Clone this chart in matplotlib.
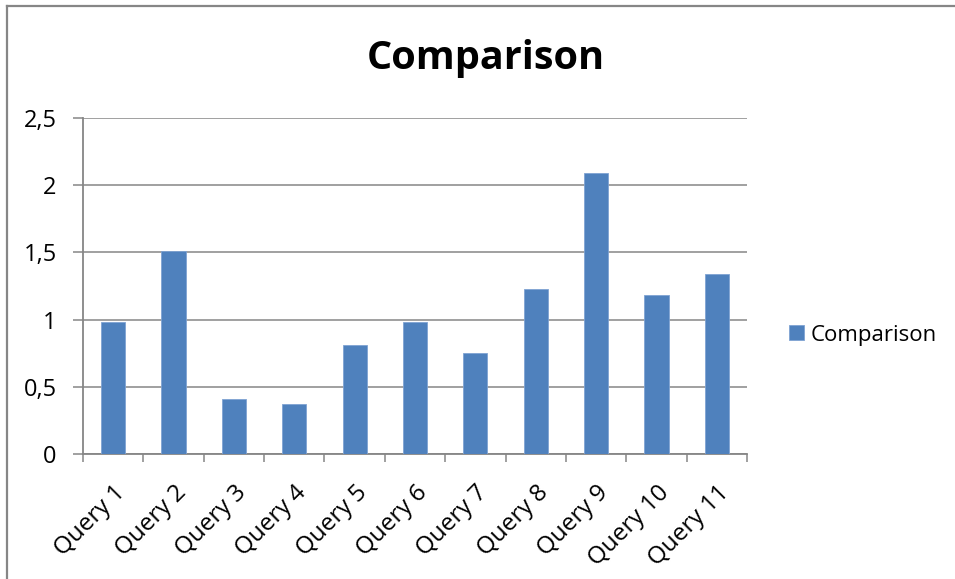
import matplotlib
matplotlib.use("Agg")
import matplotlib.pyplot as plt
import matplotlib.transforms as mtransforms
from matplotlib.lines import Line2D
import numpy as np

categories = ["Query 1", "Query 2", "Query 3", "Query 4", "Query 5", "Query 6",
              "Query 7", "Query 8", "Query 9", "Query 10", "Query 11"]
values = [0.98, 1.51, 0.41, 0.37, 0.81, 0.98, 0.75, 1.23, 2.09, 1.18, 1.34]
y_ticks = [0, 0.5, 1, 1.5, 2, 2.5]
y_tick_labels = ["0", "0,5", "1", "1,5", "2", "2,5"]
series_name = "Comparison"
title = "Comparison"

plt.rcParams["font.family"] = ["Open Sans", "DejaVu Sans"]

W, H, DPI = 955, 579, 100
fig = plt.figure(figsize=(W / DPI, H / DPI), dpi=DPI)
fig.patch.set_facecolor("white")

grid_col = "#868686"
bar_col = "#4F81BD"

ax = fig.add_axes([83 / W, 1 - 454 / H, (747 - 83) / W, (454 - 118) / H])
x = np.arange(len(categories))
bars = ax.bar(x, values, width=0.4, color=bar_col, edgecolor="#7FA3D3",
              linewidth=0.6, zorder=3, label=series_name)

ax.set_xlim(-0.5, len(categories) - 0.5)
ax.set_ylim(0, 2.5)

# horizontal gridlines
ax.set_yticks(y_ticks)
ax.set_yticklabels(y_tick_labels, fontsize=17)
ax.yaxis.grid(True, color=grid_col, linewidth=1.1, zorder=0)
ax.tick_params(axis="y", length=7, width=1.1, color=grid_col, pad=12)

# category ticks sit between bars, labels at bar centres
ax.set_xticks(np.arange(len(categories) + 1) - 0.5)
ax.set_xticklabels([])
ax.tick_params(axis="x", which="major", length=6, width=1.1, color=grid_col)
ax.set_xticks(x, minor=True)
ax.set_xticklabels(categories, minor=True, fontsize=17.5, rotation=45,
                   ha="right", va="top", rotation_mode="anchor")
ax.tick_params(axis="x", which="minor", length=0, pad=19)
shift = mtransforms.ScaledTranslation(0.5 / DPI, 0, fig.dpi_scale_trans)
for lbl in ax.get_xticklabels(minor=True):
    lbl.set_transform(lbl.get_transform() + shift)

for side in ("top", "right"):
    ax.spines[side].set_visible(False)
for side in ("left", "bottom"):
    ax.spines[side].set_color(grid_col)
    ax.spines[side].set_linewidth(1.3)

fig.text(486 / W, 1 - 69 / H, title, fontsize=28.5, fontweight="bold",
         ha="center", va="baseline")

fig.legend(handles=[bars], labels=[series_name], loc="center left",
           bbox_to_anchor=(789 / W, 1 - 335 / H), frameon=False,
           fontsize=16, handlelength=0.68, handleheight=0.68,
           handletextpad=0.3, borderpad=0, borderaxespad=0)

# outer chart frame (top and left edges)
fig.add_artist(Line2D([7 / W, 1.0], [1 - 6 / H, 1 - 6 / H], color=grid_col,
                      linewidth=1.6, transform=fig.transFigure))
fig.add_artist(Line2D([7 / W, 7 / W], [0, 1 - 6 / H], color=grid_col,
                      linewidth=1.6, transform=fig.transFigure))

fig.savefig("out.png", dpi=DPI)
